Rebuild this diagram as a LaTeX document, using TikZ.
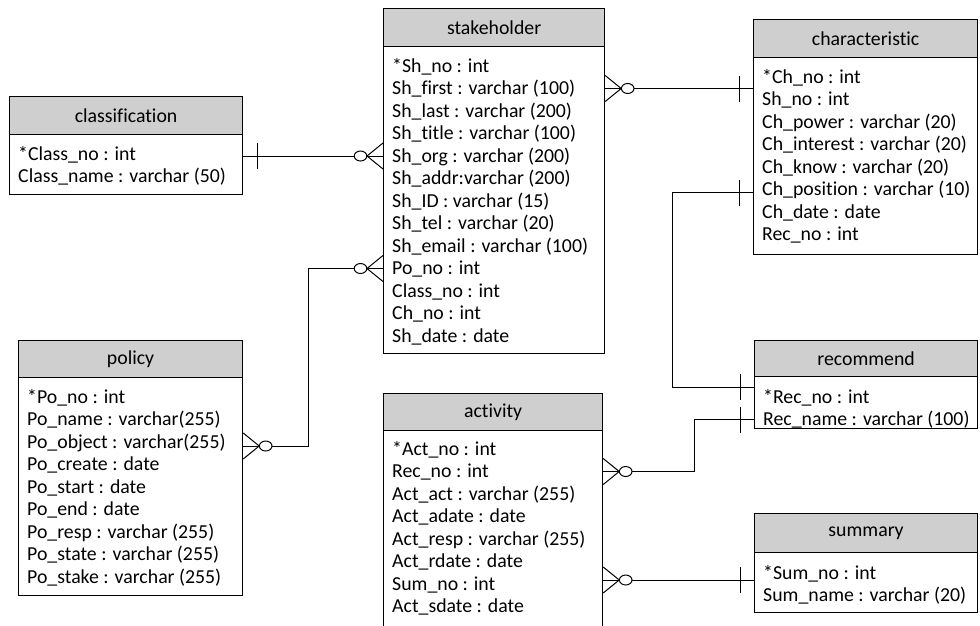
\documentclass[tikz,border=0pt]{standalone}
\usepackage{fontspec}
\setmainfont{Carlito}[Ligatures=CommonOff]
\usetikzlibrary{calc}
\definecolor{hdrgray}{RGB}{207,207,207}
\tikzset{
  hdr/.style={draw, line width=1.2pt, fill=hdrgray, anchor=north west, inner sep=0pt,
    font=\fontsize{19.8}{22}\selectfont},
  tbody/.style={draw, line width=1.2pt, fill=white, anchor=north west, inner sep=0pt},
  rowtext/.style={anchor=west, inner sep=0pt, text height=14pt, text depth=2pt,
    font=\fontsize{19.8}{22}\selectfont},
  conn/.style={line width=1pt},
  crowmark/.pic={\draw[conn] (0,-13) -- (16,0) -- (0,13);
    \draw[conn, fill=white] (22.5,0) ellipse [x radius=6.3pt, y radius=5pt];},
  barmark/.pic={\draw[conn] (14,-13) -- (14,13);}
}
% #1 name, #2 x0, #3 x1, #4 header top, #5 header bottom, #6 body bottom, #7 title, #8 first row y, #9 rows
\newcommand\erdtab[9]{%
  \node[hdr, minimum width={(#3-#2)*1pt}, minimum height={(#5-#4)*1pt}] (#1-h) at (#2,#4) {#7};
  \node[tbody, minimum width={(#3-#2)*1pt}, minimum height={(#6-#5)*1pt}] (#1) at (#2,#5) {};
  \foreach \t [count=\i] in {#9}
    \node[rowtext] (#1-\i) at ({#2+9},{#8+(\i-1)*22.5}) {\t};
}
\begin{document}
\begin{tikzpicture}[x=1pt,y=-1pt]
\useasboundingbox (0,0) rectangle (980,625);

\erdtab{stk}{383}{604}{8}{46}{353}{stakeholder}{66}{%
  *Sh\_no : int, Sh\_first : varchar (100), Sh\_last : varchar (200),
  Sh\_title : varchar (100), Sh\_org : varchar (200), Sh\_addr:varchar (200),
  Sh\_ID : varchar (15), Sh\_tel : varchar (20), Sh\_email : varchar (100),
  Po\_no : int, Class\_no : int, Ch\_no : int, Sh\_date : date}

\erdtab{chr}{753}{977}{19}{57}{254}{characteristic}{77}{%
  *Ch\_no : int, Sh\_no : int, Ch\_power : varchar (20), Ch\_interest : varchar (20),
  Ch\_know : varchar (20), Ch\_position : varchar (10), Ch\_date : date, Rec\_no : int}

\erdtab{cls}{9}{242}{96}{134}{194}{classification}{154}{%
  *Class\_no : int, Class\_name : varchar (50)}

\erdtab{pol}{18}{242}{340}{377}{595}{policy}{397}{%
  *Po\_no : int, Po\_name : varchar(255), Po\_object : varchar(255),
  Po\_create : date, Po\_start : date, Po\_end : date,
  Po\_resp : varchar (255), Po\_state : varchar (255), Po\_stake : varchar (255)}

\erdtab{act}{383}{602}{393}{430}{634}{activity}{449}{%
  *Act\_no : int, Rec\_no : int, Act\_act : varchar (255), Act\_adate : date,
  Act\_resp : varchar (255), Act\_rdate : date, Sum\_no : int, Act\_sdate : date}

\erdtab{rec}{754}{977}{340}{376}{428}{recommend}{397}{%
  *Rec\_no : int, Rec\_name : varchar (100)}

\erdtab{sum}{754}{977}{513}{552}{612}{summary}{573}{%
  *Sum\_no : int, Sum\_name : varchar (20)}

% junction coordinates
\coordinate (j3) at (308,0);
\coordinate (j4) at (672,0);
\coordinate (j5) at (694,0);
\coordinate (p3) at ($(pol.east |- pol-3)+(0,4)$);
\coordinate (c4a) at ($(chr.west |- chr-6)+(0,3)$);
\coordinate (c4b) at ($(rec.west |- rec-1)+(0,-10)$);
\coordinate (c6) at ($(sum.west |- sum-1)+(0,7)$);

% connectors
\draw[conn] (cls.east |- stk-5) -- (stk.west |- stk-5);
\draw[conn] (stk.east |- stk-2) -- (chr.west |- stk-2);
\draw[conn] (stk.west |- stk-10) -| (j3 |- p3) -- (p3);
\draw[conn] (c4a) -| (j4 |- c4b) -- (c4b);
\draw[conn] (rec.west |- rec-2) -| (j5 |- act-2) -- (act.east |- act-2);
\draw[conn] (act.east |- c6) -- (c6);

% end marks
\pic at (cls.east |- stk-5) {barmark};
\pic[xscale=-1] at (stk.west |- stk-5) {crowmark};
\pic at (stk.east |- stk-2) {crowmark};
\pic[xscale=-1] at (chr.west |- stk-2) {barmark};
\pic[xscale=-1] at (stk.west |- stk-10) {crowmark};
\pic at (p3) {crowmark};
\pic[xscale=-1] at (c4a) {barmark};
\pic[xscale=-1] at (c4b) {barmark};
\pic[xscale=-1] at (rec.west |- rec-2) {barmark};
\pic at (act.east |- act-2) {crowmark};
\pic at (act.east |- c6) {crowmark};
\pic[xscale=-1] at (c6) {barmark};
\end{tikzpicture}
\end{document}
